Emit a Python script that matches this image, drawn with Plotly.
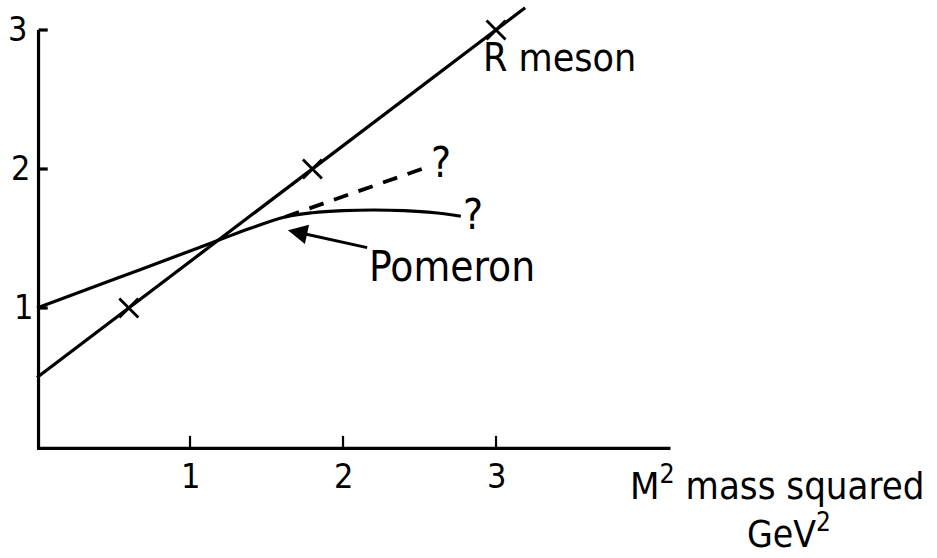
import plotly.graph_objects as go

# Regge trajectories: spin J versus mass squared M^2 (GeV^2)
r_line_x = [0.0, 3.19]
r_line_y = [0.50, 3.16]
meson_x = [0.6, 1.8, 3.0]
meson_j = [1, 2, 3]

pomeron_x = [0.0, 0.5, 1.0, 1.4, 1.62, 1.8, 2.0, 2.2, 2.4, 2.6, 2.77]
pomeron_y = [1.00, 1.205, 1.41, 1.575, 1.655, 1.685, 1.700, 1.705, 1.700, 1.685, 1.660]

rising_x = [1.62, 2.54]
rising_y = [1.655, 2.01]

x_ticks = [1, 2, 3]
y_ticks = [1, 2, 3]

FONT = "DejaVu Sans Condensed"
INK = "#000000"
LW = 3.2

fig = go.Figure()

fig.add_trace(go.Scatter(x=r_line_x, y=r_line_y, mode="lines",
                         line=dict(color=INK, width=LW), hoverinfo="skip"))
fig.add_trace(go.Scatter(x=meson_x, y=meson_j, mode="markers",
                         marker=dict(symbol="x-thin", size=19,
                                     line=dict(color=INK, width=2.8)),
                         hoverinfo="skip"))
fig.add_trace(go.Scatter(x=pomeron_x, y=pomeron_y, mode="lines",
                         line=dict(color=INK, width=LW, shape="spline"),
                         hoverinfo="skip"))
fig.add_trace(go.Scatter(x=rising_x, y=rising_y, mode="lines",
                         line=dict(color=INK, width=LW + 0.6, dash="15px,11px"),
                         hoverinfo="skip"))

shapes = []
# axes
shapes.append(dict(type="line", x0=0.01, x1=0.01, y0=-0.01, y1=3.0,
                   line=dict(color=INK, width=LW)))
shapes.append(dict(type="line", x0=0, x1=4.14, y0=-0.01, y1=-0.01,
                   line=dict(color=INK, width=LW)))
# ticks
for t in y_ticks:
    shapes.append(dict(type="line", x0=0.01, x1=0.07, y0=t, y1=t,
                       line=dict(color=INK, width=LW)))
for t in x_ticks:
    shapes.append(dict(type="line", x0=t, x1=t, y0=-0.01, y1=0.08,
                       line=dict(color=INK, width=2.2)))

annotations = []
for t in x_ticks:
    annotations.append(dict(x=t, y=-0.21, text=str(t), showarrow=False,
                            font=dict(family=FONT, size=34, color=INK)))
for t, dx in zip(y_ticks, [-0.09, -0.11, -0.13]):
    annotations.append(dict(x=dx, y=t + 0.01, text=str(t), showarrow=False,
                            font=dict(family=FONT, size=34, color=INK)))

annotations += [
    dict(x=2.9, y=2.8, text="R meson", showarrow=False, xanchor="left",
         font=dict(family=FONT, size=39, color=INK)),
    # label with its pointer to the Pomeron trajectory
    dict(x=1.64, y=1.56, ax=2.71, ay=1.30, axref="x", ayref="y",
         xref="x", yref="y", text="Pomeron", showarrow=True, arrowhead=2,
         arrowsize=1.3, arrowwidth=3, arrowcolor=INK, standoff=0,
         font=dict(family=FONT, size=42, color=INK)),
    dict(x=2.64, y=2.05, text="?", showarrow=False,
         font=dict(family=FONT, size=42, color=INK)),
    dict(x=2.85, y=1.67, text="?", showarrow=False,
         font=dict(family=FONT, size=42, color=INK)),
    dict(x=3.86, y=-0.26, text="M<sup>2</sup> mass squared", showarrow=False,
         xanchor="left", font=dict(family=FONT, size=38, color=INK)),
    dict(x=4.63, y=-0.61, text="GeV<sup>2</sup>", showarrow=False,
         xanchor="left", font=dict(family=FONT, size=37, color=INK)),
]

fig.update_layout(
    width=937, height=558,
    margin=dict(l=0, r=0, t=0, b=0),
    paper_bgcolor="white", plot_bgcolor="white",
    showlegend=False,
    xaxis=dict(range=[-0.2418, 5.882], visible=False, fixedrange=True),
    yaxis=dict(range=[-0.7986, 3.2158], visible=False, fixedrange=True),
    shapes=shapes,
    annotations=annotations,
)

fig.write_html("out.html")
